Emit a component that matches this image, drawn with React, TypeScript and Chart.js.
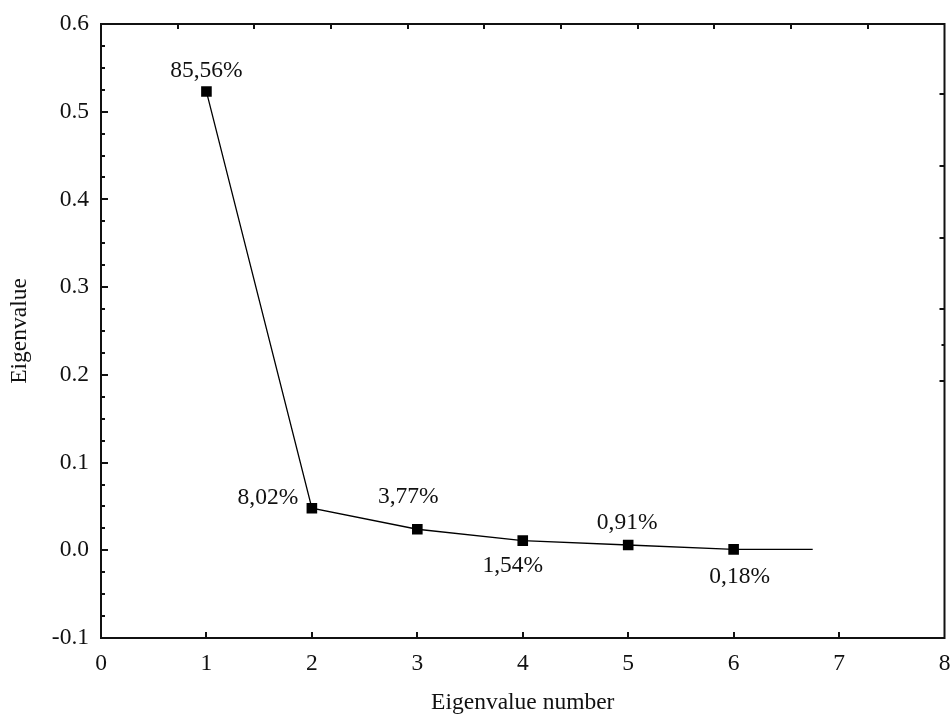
import React, { useEffect, useRef } from 'react';
import { Chart, registerables } from 'chart.js';

Chart.register(...registerables);

// ---- data ----
const eigenNumbers = [1, 2, 3, 4, 5, 6, 6.75];
const eigenValues = [0.523, 0.048, 0.024, 0.011, 0.006, 0.001, 0.001];
const percentLabels = ['85,56%', '8,02%', '3,77%', '1,54%', '0,91%', '0,18%', ''];
const markerShown = [true, true, true, true, true, true, false];

const xTickValues = [0, 1, 2, 3, 4, 5, 6, 7, 8];
const yTickValues = [-0.1, 0, 0.1, 0.2, 0.3, 0.4, 0.5, 0.6];
const yMinorStep = 0.025;
const topTickValues = [1, 2, 3, 4, 5, 6, 7, 8, 9, 10];
const rightTickValues = [4, 5, 6, 7, 8];
const rightMinorTickValues = [4.5];

// label offsets (px) relative to marker
const labelDx = [0, -44, -9, -10, -1, 6, 0];
const labelDy = [-21, -10, -32, 25, -22, 27, 0];

const FONT = "'Liberation Serif', 'Times New Roman', serif";
const FS = 23.5;

const decorPlugin = {
  id: 'decor',
  afterDraw(chart: any) {
    const { ctx, chartArea: a, scales } = chart;
    ctx.save();
    ctx.strokeStyle = '#111';
    ctx.lineWidth = 2;
    const seg = (x1: number, y1: number, x2: number, y2: number) => {
      ctx.beginPath();
      ctx.moveTo(x1, y1);
      ctx.lineTo(x2, y2);
      ctx.stroke();
    };
    // bottom ticks
    for (const v of xTickValues) {
      const px = Math.round(scales.x.getPixelForValue(v));
      if (px <= a.left + 2 || px >= a.right - 2) continue;
      seg(px, a.bottom, px, a.bottom - 6);
    }
    // left major ticks
    for (const v of yTickValues) {
      const py = Math.round(scales.y.getPixelForValue(v));
      if (py <= a.top + 2 || py >= a.bottom - 2) continue;
      seg(a.left, py, a.left + 7, py);
    }
    // left minor ticks
    const ymin = scales.y.min, ymax = scales.y.max;
    const n = Math.round((ymax - ymin) / yMinorStep);
    for (let i = 1; i < n; i++) {
      if (i % 4 === 0) continue;
      const v = ymin + i * yMinorStep;
      const py = Math.round(scales.y.getPixelForValue(v));
      seg(a.left, py, a.left + 4, py);
    }
    // top ticks
    for (const v of topTickValues) {
      const px = Math.round(scales.xTop.getPixelForValue(v));
      seg(px, a.top, px, a.top + 5);
    }
    // right ticks
    for (const v of rightTickValues) {
      const py = Math.round(scales.yRight.getPixelForValue(v));
      seg(a.right, py, a.right - 5, py);
    }
    for (const v of rightMinorTickValues) {
      const py = Math.round(scales.yRight.getPixelForValue(v));
      seg(a.right, py, a.right - 3, py);
    }
    // frame
    ctx.strokeRect(a.left, a.top, a.right - a.left, a.bottom - a.top);

    // point labels
    const meta = chart.getDatasetMeta(0);
    ctx.fillStyle = '#111';
    ctx.font = `${FS}px ${FONT}`;
    ctx.textAlign = 'center';
    ctx.textBaseline = 'middle';
    meta.data.forEach((pt: any, i: number) => {
      const txt = percentLabels[i];
      if (!txt) return;
      ctx.fillText(txt, pt.x + labelDx[i], pt.y + labelDy[i]);
    });
    ctx.restore();
  },
};

export default function App() {
  const ref = useRef<HTMLCanvasElement | null>(null);
  useEffect(() => {
    document.body.style.margin = '0';
    const canvas = ref.current;
    if (!canvas) return;
    const chart = new Chart(canvas, {
      type: 'line',
      data: {
        datasets: [
          {
            data: eigenNumbers.map((x, i) => ({ x, y: eigenValues[i] })),
            borderColor: '#000',
            borderWidth: 1.3,
            backgroundColor: '#000',
            pointStyle: 'rect',
            pointRadius: markerShown.map((s) => (s ? 7.5 : 0)),
            pointBorderWidth: 0,
            pointBackgroundColor: '#000',
            tension: 0,
          },
        ],
      },
      options: {
        animation: false,
        responsive: false,
        maintainAspectRatio: false,
        events: [],
        layout: { padding: { left: 0, right: 6, top: 24, bottom: 0 } },
        plugins: { legend: { display: false }, tooltip: { enabled: false } },
        scales: {
          x: {
            type: 'linear',
            position: 'bottom',
            min: 0,
            max: 8,
            afterBuildTicks: (s: any) => {
              s.ticks = xTickValues.map((v) => ({ value: v }));
            },
            afterFit: (s: any) => {
              s.height = 79;
              s.paddingLeft = 0;
              s.paddingRight = 0;
            },
            grid: { display: false, drawTicks: false },
            border: { display: false },
            ticks: {
              color: '#111',
              font: { family: FONT, size: FS },
              padding: 12,
              maxRotation: 0,
              autoSkip: false,
              callback: (v: any) => String(v),
            },
            title: {
              display: true,
              text: 'Eigenvalue number',
              color: '#111',
              font: { family: FONT, size: FS },
              padding: { top: 0, bottom: 0 },
            },
          },
          y: {
            type: 'linear',
            position: 'left',
            min: -0.1,
            max: 0.6,
            afterBuildTicks: (s: any) => {
              s.ticks = yTickValues.map((v) => ({ value: v }));
            },
            afterFit: (s: any) => {
              s.width = 101;
              s.paddingTop = 0;
              s.paddingBottom = 0;
            },
            grid: { display: false, drawTicks: false },
            border: { display: false },
            ticks: {
              color: '#111',
              font: { family: FONT, size: FS },
              padding: 12,
              autoSkip: false,
              callback: (v: any) => Number(v).toFixed(1),
            },
            title: {
              display: true,
              text: 'Eigenvalue',
              color: '#111',
              font: { family: FONT, size: FS },
              padding: { top: 6, bottom: 0 },
            },
          },
          xTop: {
            type: 'linear',
            position: 'top',
            min: 0,
            max: 11,
            display: false,
          },
          yRight: {
            type: 'linear',
            position: 'right',
            min: 0.418,
            max: 8.976,
            display: false,
          },
        },
      },
      plugins: [decorPlugin],
    } as any);
    return () => chart.destroy();
  }, []);
  return (
    <div style={{ position: 'fixed', left: 0, top: 0, width: 952, height: 717, background: '#fff' }}>
      <canvas ref={ref} width={952} height={717} style={{ width: 952, height: 717, display: 'block' }} />
    </div>
  );
}
